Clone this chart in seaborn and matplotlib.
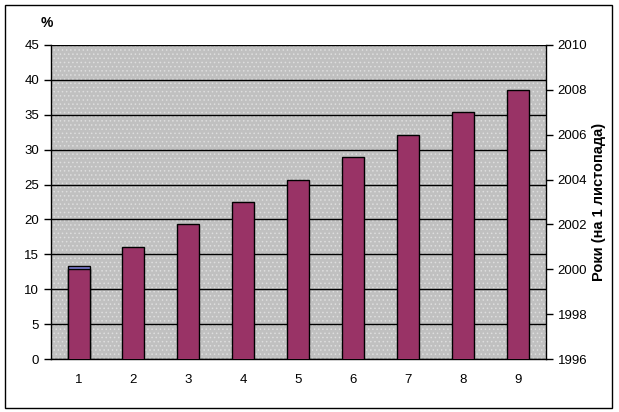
import numpy as np
import pandas as pd
import seaborn as sns
import matplotlib.pyplot as plt
from matplotlib.patches import Rectangle

# data
categories = ['1', '2', '3', '4', '5', '6', '7', '8', '9']
years = [2000, 2001, 2002, 2003, 2004, 2005, 2006, 2007, 2008]
percent = [13.3, 0, 0, 0, 0, 0, 0, 0, 0]

sns.set_style('white')
plt.rcParams['font.family'] = ['Liberation Sans', 'DejaVu Sans']
plt.rcParams['hatch.linewidth'] = 0.6
plt.rcParams['text.color'] = 'black'
plt.rcParams['axes.labelcolor'] = 'black'
plt.rcParams['xtick.color'] = 'black'
plt.rcParams['ytick.color'] = 'black'

fig = plt.figure(figsize=(6.19, 4.12), dpi=100)
ax = fig.add_axes([0.0824, 0.1286, 0.7996, 0.7624])

# background: grey with light dot texture
ax.set_facecolor('#c0c0c0')
ax.add_patch(Rectangle((0, 0), 1, 1, transform=ax.transAxes, facecolor='none',
                       edgecolor='#dedede', hatch='....', linewidth=0, zorder=0))

df = pd.DataFrame({'cat': categories, 'pct': percent, 'year': years})

sns.barplot(data=df, x='cat', y='pct', ax=ax, color='#7f7fd8', width=0.4,
            edgecolor='black', linewidth=1, saturation=1, zorder=3)
ax.set_ylim(0, 45)
ax.set_yticks(np.arange(0, 46, 5))
ax.set_xlim(-0.5, 8.5)
ax.yaxis.grid(True, color='black', linewidth=1)
ax.set_axisbelow(True)
ax.set_xlabel('')
ax.set_ylabel('')

ax2 = ax.twinx()
sns.barplot(data=df, x='cat', y='year', ax=ax2, color='#993366', width=0.4,
            edgecolor='black', linewidth=1, saturation=1, zorder=3)
ax2.set_ylim(1996, 2010)
ax2.set_yticks(np.arange(1996, 2011, 2))
ax2.set_xlim(-0.5, 8.5)
ax2.set_ylabel('Роки (на 1 листопада)', fontsize=10.5, fontweight='bold', labelpad=3)
ax2.set_xlabel('')

# x ticks at category boundaries, labels centered
ax.set_xticks(np.arange(-0.5, 9, 1))
ax.set_xticklabels([''] * 10)
ax.set_xticks(np.arange(0, 9), minor=True)
ax.set_xticklabels(categories, minor=True)
ax.tick_params(axis='x', which='major', direction='out', length=5, width=1, color='black')
ax.tick_params(axis='x', which='minor', length=0, pad=11, labelsize=9.5)
ax.tick_params(axis='y', direction='out', length=5, width=1, color='black', labelsize=9.5, left=True)
ax2.tick_params(axis='y', direction='out', length=5, width=1, color='black', labelsize=9.5, right=True)

for a in (ax, ax2):
    for s in a.spines.values():
        s.set_visible(False)
ax.spines['left'].set_visible(True)
ax.spines['bottom'].set_visible(True)
ax2.spines['right'].set_visible(True)
for s in (ax.spines['left'], ax.spines['bottom'], ax2.spines['right']):
    s.set_color('black')
    s.set_linewidth(1)

fig.text(0.076, 0.935, '%', fontsize=10, fontweight='bold', ha='center')

# outer chart border
fig.patches.append(Rectangle((0.008, 0.01), 0.981, 0.978, transform=fig.transFigure,
                             fill=False, edgecolor='black', linewidth=1))

fig.savefig('out.png', dpi=100)
